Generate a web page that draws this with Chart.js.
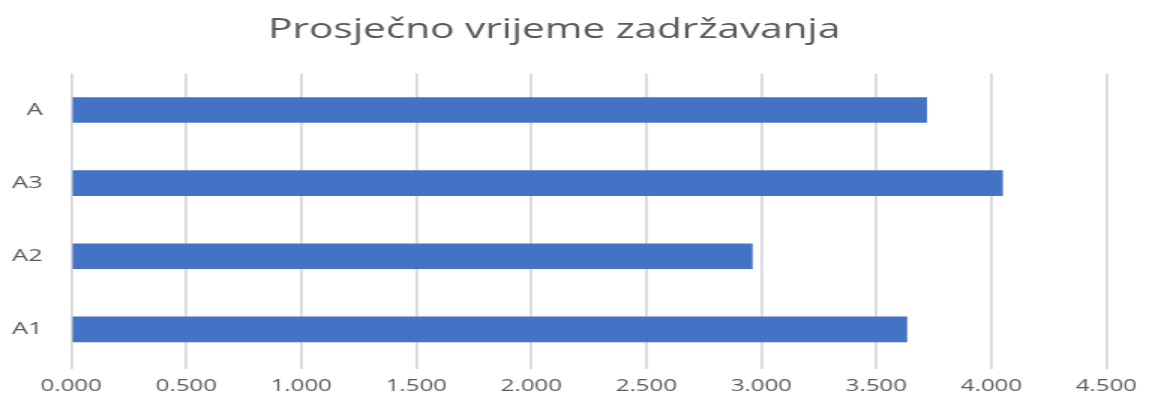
<!DOCTYPE html>
<html>
<head>
<meta charset="utf-8">
<script src="https://cdn.jsdelivr.net/npm/chart.js@4/dist/chart.umd.min.js"></script>
<style>
  html, body { margin: 0; padding: 0; background: #fff; overflow: hidden; }
  /* the original picture is stretched sideways, so draw narrow and widen it */
  #wrap { width: 766px; height: 403px; transform: scaleX(1.5); transform-origin: 0 0; }
</style>
</head>
<body>
<div id="wrap"><canvas id="chart"></canvas></div>
<script>
// data (top to bottom)
const categories = ['A', 'A3', 'A2', 'A1'];
const avgTime = [3.720, 4.050, 2.962, 3.634];
const xTickLabels = ['0.000', '0.500', '1.000', '1.500', '2.000', '2.500', '3.000', '3.500', '4.000', '4.500'];

const grey = '#595959';

const ctx = document.getElementById('chart');
const myChart = new Chart(ctx, {
    type: 'bar',
    data: {
        labels: categories,
        datasets: [{
            label: 'Prosječno vrijeme zadržavanja',
            data: avgTime,
            backgroundColor: '#4472C4',
            borderWidth: 0,
            categoryPercentage: 1,
            barPercentage: 0.35
        }]
    },
    options: {
        indexAxis: 'y',
        responsive: true,
        maintainAspectRatio: false,
        animation: false,
        layout: { padding: { left: 0, right: 27, top: 0, bottom: 0 } },
        scales: {
            x: {
                min: 0,
                max: 4.5,
                ticks: {
                    stepSize: 0.5,
                    color: grey,
                    font: { family: 'Open Sans', size: 16 },
                    padding: 8,
                    callback: function(val, index) {
                        return xTickLabels[index];
                    }
                },
                grid: { color: '#d9d9d9', lineWidth: 1.8, tickLength: 3, tickColor: '#d9d9d9' },
                border: { display: false },
                afterFit: function(scale) { scale.height = 37; }
            },
            y: {
                ticks: {
                    color: grey,
                    font: { family: 'Open Sans', size: 17 },
                    padding: 11
                },
                grid: { display: false },
                border: { display: false },
                afterFit: function(scale) { scale.width = 47.5; }
            }
        },
        plugins: {
            legend: { display: false },
            tooltip: { enabled: false },
            title: {
                display: true,
                text: 'Prosječno vrijeme zadržavanja',
                color: grey,
                font: { family: 'Open Sans', size: 27, weight: 'normal' },
                padding: { top: 14, bottom: 27 }
            }
        }
    }
});
</script>
</body>
</html>
